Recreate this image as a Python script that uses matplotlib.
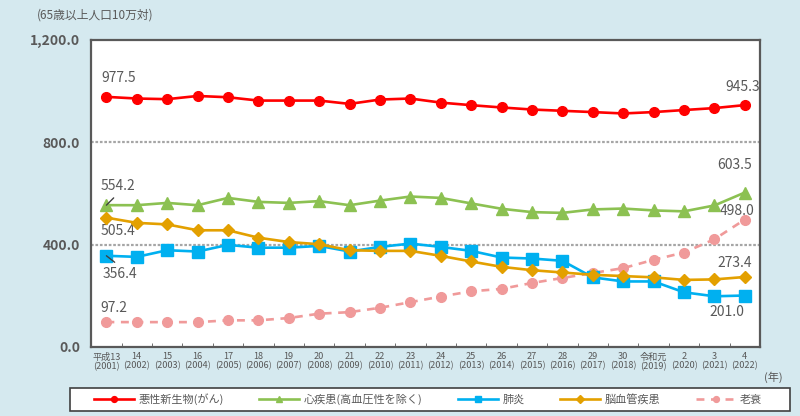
import numpy as np
import matplotlib
matplotlib.use("Agg")
import matplotlib.pyplot as plt
from matplotlib.patches import Rectangle

plt.rcParams["font.family"] = ["Noto Sans CJK JP", "DejaVu Sans"]

# 年次ラベル
years_jp = ["平成13", "14", "15", "16", "17", "18", "19", "20", "21", "22", "23",
            "24", "25", "26", "27", "28", "29", "30", "令和元", "2", "3", "4"]
years_ad = list(range(2001, 2023))

# 65歳以上人口10万対 死亡率
cancer = [977.5, 971, 968.5, 981, 976, 963, 963, 963, 950, 967, 971,
          955, 945, 936, 928, 923, 918, 912.6, 918, 926, 933.6, 945.3]
heart = [554.2, 554, 563, 554, 582.5, 567, 563, 570, 554, 572, 588,
         582.5, 561, 540, 527, 524, 537.5, 541, 533.6, 530, 553, 603.5]
pneumonia = [356.4, 352, 378, 373, 399, 388, 388, 395, 373, 391, 404,
             391, 375.5, 349.5, 345.6, 336.7, 272, 256, 256, 213.6, 198, 201.0]
cerebro = [505.4, 485, 479, 456, 456, 427, 410, 401.5, 378, 375.5, 375.5,
           356, 334, 313, 300, 291, 282, 277, 272, 262, 264, 273.4]
senility = [97.2, 97, 97, 97, 104, 104, 113, 130, 136, 153, 175,
            197, 217.5, 227, 250, 269.5, 289, 308, 340.6, 369, 421, 498.0]

BG = "#d5e9ef"
TXT = "#595959"

fig = plt.figure(figsize=(8, 4.16), dpi=100, facecolor=BG)
ax = fig.add_axes([0.114, 0.166, 0.836, 0.738])
ax.set_facecolor("white")

x = np.arange(len(years_ad))
lw = 1.9
ax.plot(x, cancer, color="#ff0000", lw=lw, marker="o", ms=7, label="悪性新生物(がん)", zorder=5)
ax.plot(x, heart, color="#8cc152", lw=lw, marker="^", ms=8, label="心疾患(高血圧性を除く)", zorder=5)
ax.plot(x, pneumonia, color="#00b0f0", lw=lw, marker="s", ms=8, label="肺炎", zorder=5)
ax.plot(x, cerebro, color="#e3a000", lw=lw, marker="D", ms=6.5, label="脳血管疾患", zorder=5)
ax.plot(x, senility, color="#f09a9a", lw=lw, ls=(0, (3, 2.5)), marker="o", ms=7,
        label="老衰", zorder=4)

ax.set_xlim(-0.5, len(x) - 0.5)
ax.set_ylim(0, 1200)
ax.set_yticks([0, 400, 800, 1200])
ax.set_yticklabels([f"{v:,.1f}" for v in [0, 400, 800, 1200]], fontsize=10,
                   color=TXT, fontweight="bold")
ax.tick_params(axis="y", length=0, pad=8)
for g in [400, 800]:
    ax.axhline(g, color="#a6a6a6", lw=1.6, ls=(0, (1.2, 0.8)), zorder=1)

ax.set_xticks(x)
ax.set_xticklabels([f"{a}\n({b})" for a, b in zip(years_jp, years_ad)],
                   fontsize=6.6, color=TXT, linespacing=1.0)
ax.tick_params(axis="x", length=0, pad=4)
ax.set_xticks(np.arange(0.5, len(x) - 1, 1), minor=True)
ax.tick_params(axis="x", which="minor", direction="in", length=3, color=TXT)

for s in ax.spines.values():
    s.set_color("#595959")
    s.set_linewidth(1.6)

fig.text(0.046, 0.965, "(65歳以上人口10万対)", fontsize=8.5, color=TXT, va="center")
fig.text(0.955, 0.092, "(年)", fontsize=8, color=TXT, va="center")

lab = dict(fontsize=10, color=TXT, textcoords="offset pixels", ha="center", va="center")
last = len(x) - 1
ax.annotate("977.5", (0, cancer[0]), xytext=(12, 19), **lab)
ax.annotate("945.3", (last, cancer[-1]), xytext=(-2, 18), **lab)
ax.annotate("554.2", (0, heart[0]), xytext=(12, 19), zorder=7,
            arrowprops=dict(arrowstyle="-", color="#404040", lw=1.0, relpos=(0.5, 0),
                            shrinkA=2, shrinkB=0), **lab)
ax.annotate("505.4", (0, cerebro[0]), xytext=(12, -13), **lab)
ax.annotate("356.4", (0, pneumonia[0]), xytext=(14, -18), zorder=7,
            arrowprops=dict(arrowstyle="-", color="#404040", lw=1.0, relpos=(0.5, 1),
                            shrinkA=2, shrinkB=0), **lab)
ax.annotate("97.2", (0, senility[0]), xytext=(7, 14), **lab)
ax.annotate("603.5", (last, heart[-1]), xytext=(-10, 28), **lab)
ax.annotate("498.0", (last, senility[-1]), xytext=(-8, 9), **lab)
ax.annotate("273.4", (last, cerebro[-1]), xytext=(-10, 14), **lab)
ax.annotate("201.0", (last, pneumonia[-1]), xytext=(-18, -16), **lab)

# 凡例の枠
fig.patches.append(Rectangle((0.0875, 0.012), 0.9, 0.056, transform=fig.transFigure,
                             facecolor="white", edgecolor="#404040", lw=1.2, zorder=0))
leg = fig.legend(loc="center", bbox_to_anchor=(0.535, 0.04), ncol=5,
                 fontsize=8, handlelength=3.6, columnspacing=3.2, frameon=False,
                 markerscale=0.6, handletextpad=0.4)
for t in leg.get_texts():
    t.set_color(TXT)

fig.savefig("out.png", dpi=100, facecolor=BG)
